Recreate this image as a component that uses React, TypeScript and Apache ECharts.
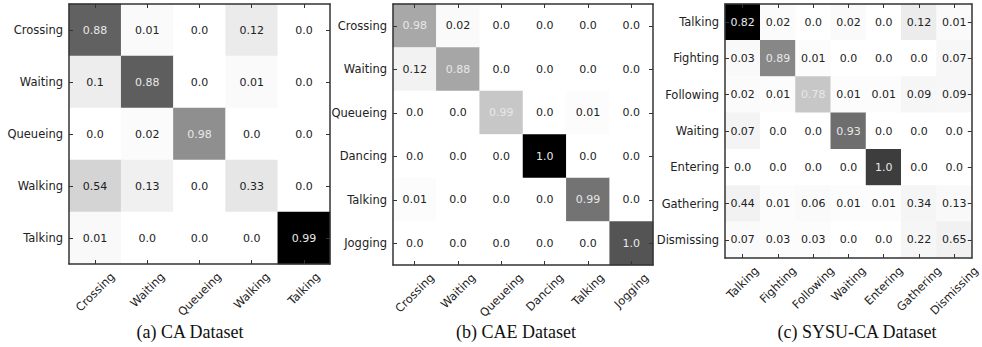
import React, { useEffect, useRef } from "react";
import * as echarts from "echarts";

const caLabels = ["Crossing", "Waiting", "Queueing", "Walking", "Talking"];
const caValues = [
  [0.88, 0.01, 0.0, 0.12, 0.0],
  [0.1, 0.88, 0.0, 0.01, 0.0],
  [0.0, 0.02, 0.98, 0.0, 0.0],
  [0.54, 0.13, 0.0, 0.33, 0.0],
  [0.01, 0.0, 0.0, 0.0, 0.99],
];
const caShade = [
  [0.62, 0.02, 0, 0.08, 0],
  [0.07, 0.63, 0, 0.02, 0],
  [0, 0.015, 0.44, 0, 0],
  [0.17, 0.06, 0, 0.1, 0],
  [0.025, 0, 0, 0, 1],
];

const caeLabels = ["Crossing", "Waiting", "Queueing", "Dancing", "Talking", "Jogging"];
const caeValues = [
  [0.98, 0.02, 0.0, 0.0, 0.0, 0.0],
  [0.12, 0.88, 0.0, 0.0, 0.0, 0.0],
  [0.0, 0.0, 0.99, 0.0, 0.01, 0.0],
  [0.0, 0.0, 0.0, 1.0, 0.0, 0.0],
  [0.01, 0.0, 0.0, 0.0, 0.99, 0.0],
  [0.0, 0.0, 0.0, 0.0, 0.0, 1.0],
];
const caeShade = [
  [0.34, 0.02, 0, 0, 0, 0],
  [0.05, 0.35, 0, 0, 0, 0],
  [0, 0, 0.22, 0, 0.01, 0],
  [0, 0, 0, 1, 0, 0],
  [0.01, 0, 0, 0, 0.55, 0],
  [0, 0, 0, 0, 0, 0.67],
];

const sysuLabels = ["Talking", "Fighting", "Following", "Waiting", "Entering", "Gathering", "Dismissing"];
const sysuValues = [
  [0.82, 0.02, 0.0, 0.02, 0.0, 0.12, 0.01],
  [0.03, 0.89, 0.01, 0.0, 0.0, 0.0, 0.07],
  [0.02, 0.01, 0.78, 0.01, 0.01, 0.09, 0.09],
  [0.07, 0.0, 0.0, 0.93, 0.0, 0.0, 0.0],
  [0.0, 0.0, 0.0, 0.0, 1.0, 0.0, 0.0],
  [0.44, 0.01, 0.06, 0.01, 0.01, 0.34, 0.13],
  [0.07, 0.03, 0.03, 0.0, 0.0, 0.22, 0.65],
];
const sysuShade = [
  [1, 0.015, 0, 0.02, 0, 0.075, 0.02],
  [0.025, 0.47, 0.01, 0, 0, 0, 0.03],
  [0.015, 0.01, 0.22, 0.01, 0.01, 0.035, 0.03],
  [0.045, 0, 0, 0.57, 0, 0, 0],
  [0, 0, 0, 0, 0.76, 0, 0],
  [0.05, 0.01, 0.02, 0.01, 0.01, 0.04, 0.025],
  [0.02, 0.01, 0.01, 0, 0, 0.035, 0.055],
];

const captions = ["(a) CA Dataset", "(b) CAE Dataset", "(c) SYSU-CA Dataset"];

const panels = [
  { labels: caLabels, values: caValues, shade: caShade },
  { labels: caeLabels, values: caeValues, shade: caeShade },
  { labels: sysuLabels, values: sysuValues, shade: sysuShade },
];

const grids = [
  { left: 69, top: 4, width: 261, height: 260 },
  { left: 393, top: 4, width: 260, height: 261 },
  { left: 725, top: 4, width: 254, height: 254 },
];
const captionX = [190, 516, 857];

const LABEL_FONT = "DejaVu Sans";
const LABEL_SIZE = 11.5;

const fmt = (v: number) =>
  Math.abs(v * 10 - Math.round(v * 10)) < 1e-9 ? v.toFixed(1) : v.toFixed(2);

let measureCtx: CanvasRenderingContext2D | null = null;
const measure = (t: string) => {
  if (!measureCtx) measureCtx = document.createElement("canvas").getContext("2d");
  if (!measureCtx) return t.length * 6.5;
  measureCtx.font = `${LABEL_SIZE}px "${LABEL_FONT}"`;
  return measureCtx.measureText(t).width;
};

export default function App() {
  const ref = useRef<HTMLDivElement>(null);
  useEffect(() => {
    if (!ref.current) return;
    const chart = echarts.init(ref.current, null, { renderer: "svg" });
    const axisLine = { show: true, onZero: false, lineStyle: { color: "#333", width: 1.5 } };
    const tick = {
      show: true,
      inside: true,
      length: 4,
      alignWithLabel: true,
      interval: 0,
      lineStyle: { color: "#333", width: 1 },
    };
    const xAxis: any[] = [];
    const yAxis: any[] = [];
    const series: any[] = [];
    const visualMap: any[] = [];
    panels.forEach((p, i) => {
      // matplotlib-style rotated labels: rotated bbox centred under the tick
      const rich: any = {};
      p.labels.forEach((lab, k) => {
        const w = measure(lab);
        const P = 8.5 + 0.5 * (w + 13);
        rich["l" + k] = {
          fontSize: LABEL_SIZE,
          fontFamily: LABEL_FONT,
          color: "#222",
          padding: [P, P, 0, 0],
        };
      });
      xAxis.push({
        type: "category",
        gridIndex: i,
        data: p.labels,
        position: "bottom",
        z: 5,
        axisLine,
        axisTick: tick,
        splitLine: { show: false },
        axisLabel: {
          interval: 0,
          rotate: 45,
          margin: 0,
          align: "center",
          verticalAlign: "middle",
          fontSize: LABEL_SIZE,
          fontFamily: LABEL_FONT,
          color: "#222",
          formatter: (val: string, idx: number) => `{l${idx}|${val}}`,
          rich,
        },
      });
      xAxis.push({
        type: "category",
        gridIndex: i,
        data: p.labels,
        position: "top",
        z: 5,
        axisLine,
        axisTick: tick,
        axisLabel: { show: false },
        splitLine: { show: false },
      });
      yAxis.push({
        type: "category",
        gridIndex: i,
        data: p.labels,
        inverse: true,
        position: "left",
        z: 5,
        axisLine,
        axisTick: tick,
        splitLine: { show: false },
        axisLabel: {
          interval: 0,
          margin: 6,
          fontSize: LABEL_SIZE,
          fontFamily: LABEL_FONT,
          color: "#222",
        },
      });
      yAxis.push({
        type: "category",
        gridIndex: i,
        data: p.labels,
        inverse: true,
        position: "right",
        z: 5,
        axisLine,
        axisTick: tick,
        axisLabel: { show: false },
        splitLine: { show: false },
      });
      const data: any[] = [];
      p.values.forEach((row, r) =>
        row.forEach((v, c) => {
          data.push({
            value: [c, r, v, p.shade[r][c]],
            label: { color: v > 0.7 ? "#e8e8e8" : "#222222" },
          });
        })
      );
      series.push({
        type: "heatmap",
        xAxisIndex: i * 2,
        yAxisIndex: i * 2,
        data,
        itemStyle: { borderWidth: 0 },
        emphasis: { disabled: true },
        label: {
          show: true,
          fontSize: 11,
          fontFamily: LABEL_FONT,
          formatter: (prm: any) => fmt(prm.value[2]),
        },
      });
      visualMap.push({
        show: false,
        seriesIndex: i,
        dimension: 3,
        min: 0,
        max: 1,
        inRange: { color: ["#ffffff", "#000000"] },
      });
    });
    chart.setOption({
      animation: false,
      backgroundColor: "#ffffff",
      grid: grids.map((g) => ({ ...g, containLabel: false })),
      xAxis,
      yAxis,
      visualMap,
      series,
      graphic: captions.map((t, i) => ({
        type: "text",
        x: captionX[i],
        y: 332,
        style: {
          text: t,
          fontFamily: "Liberation Serif",
          fontSize: 18,
          fill: "#111",
          align: "center",
          verticalAlign: "middle",
        },
      })),
    });
    return () => chart.dispose();
  }, []);
  return (
    <div
      ref={ref}
      style={{ position: "fixed", left: 0, top: 0, width: 982, height: 347, background: "#fff" }}
    />
  );
}
